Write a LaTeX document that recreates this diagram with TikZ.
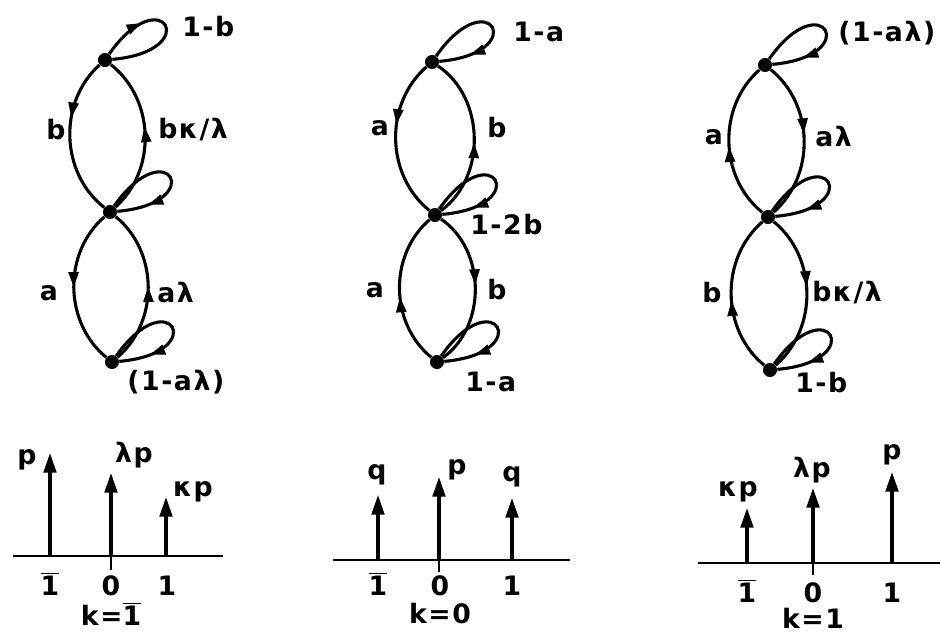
\documentclass[tikz,border=0pt]{standalone}
\usepackage{fontspec}
\setmainfont[LetterSpace=6]{DejaVu Sans}
\usetikzlibrary{positioning, arrows.meta, decorations.markings}

\begin{document}
\begin{tikzpicture}[x=0.025cm, y=0.025cm,
    % state dots and chain arcs
    dot/.style={circle, fill=black, inner sep=0pt, minimum size=10pt},
    arc/.style={line width=2.2pt},
    flow/.style={arc, postaction={decorate}, decoration={markings, mark=at position #1 with {\arrow{Triangle[length=11pt, width=7pt]}}}},
    lbl/.style={inner sep=0pt, font=\fontsize{19}{21}\selectfont\bfseries},
    % axis and stem arrows
    axis/.style={line width=2pt},
    stem/.style={line width=2.2pt, -{Triangle[length=14pt, width=9pt]}},
]
\useasboundingbox (0,0) rectangle (940,-634);

% ==================== 1. chain k = -1 ====================
\node[dot] (t1) at (105,-60)  {};
\node[dot] (m1) at (110,-212) {};
\node[dot] (b1) at (112,-362) {};

\draw[flow=0.38] (t1) to[bend right=50] (m1);
\draw[flow=0.55] (m1) to[bend right=50] (t1);
\draw[flow=0.50] (m1) to[bend right=50] (b1);
\draw[flow=0.50] (b1) to[bend right=50] (m1);

\draw[flow=0.32] (t1) .. controls +(55:100) and +(5:100) .. (t1);
\draw[flow=0.78] (m1) .. controls +(55:100) and +(5:100) .. (m1);
\draw[flow=0.78] (b1) .. controls +(55:100) and +(5:100) .. (b1);

\node[lbl, anchor=west] (l1top) at (182,-27)  {1-b};
\node[lbl]              (l1b)   at (56,-130)   {b};
\node[lbl, anchor=west] (l1bk)  at (158,-130) {bκ/λ};
\node[lbl]              (l1a)   at (49,-293)   {a};
\node[lbl, anchor=west] (l1al)  at (157,-293) {aλ};
\node[lbl, anchor=west] (l1bot) at (127,-382) {(1-aλ)};

% ==================== 2. chain k = 0 ====================
\node[dot] (t2) at (432,-62)  {};
\node[dot] (m2) at (435,-215) {};
\node[dot] (b2) at (437,-362) {};

\draw[flow=0.41] (t2) to[bend right=50] (m2);
\draw[flow=0.47] (m2) to[bend right=55] (t2);
\draw[flow=0.45] (b2) to[bend left=50] (m2);
\draw[flow=0.48] (m2) to[bend left=55] (b2);

\draw[flow=0.78] (t2) .. controls +(55:100) and +(5:100) .. (t2);
\draw[flow=0.78] (m2) .. controls +(55:100) and +(5:100) .. (m2);
\draw[flow=0.78] (b2) .. controls +(55:100) and +(5:100) .. (b2);

\node[lbl, anchor=west] (l2top) at (513,-32)  {1-a};
\node[lbl]              (l2a)   at (380,-128)  {a};
\node[lbl, anchor=west] (l2b)   at (487,-128) {b};
\node[lbl, anchor=west] (l2mid) at (470,-225) {1-2b};
\node[lbl]              (l2a2)  at (375,-290)  {a};
\node[lbl, anchor=west] (l2b2)  at (487,-290) {b};
\node[lbl, anchor=west] (l2bot) at (465,-382) {1-a};

% ==================== 3. chain k = 1 ====================
\node[dot] (t3) at (765,-65)  {};
\node[dot] (m3) at (768,-217) {};
\node[dot] (b3) at (770,-370) {};

\draw[flow=0.47] (m3) to[bend left=50] (t3);
\draw[flow=0.46] (t3) to[bend left=50] (m3);
\draw[flow=0.46] (b3) to[bend left=50] (m3);
\draw[flow=0.46] (m3) to[bend left=50] (b3);

\draw[flow=0.78] (t3) .. controls +(55:100) and +(5:100) .. (t3);
\draw[flow=0.78] (m3) .. controls +(55:100) and +(5:100) .. (m3);
\draw[flow=0.78] (b3) .. controls +(55:100) and +(5:100) .. (b3);

\node[lbl, anchor=west] (l3top) at (838,-33)  {(1-aλ)};
\node[lbl]              (l3a)   at (714,-137)  {a};
\node[lbl, anchor=west] (l3al)  at (815,-137) {aλ};
\node[lbl]              (l3b)   at (712,-293)  {b};
\node[lbl, anchor=west] (l3bk)  at (812,-293) {bκ/λ};
\node[lbl, anchor=west] (l3bot) at (795,-383) {1-b};

% ==================== 4. stem plots ====================
% k = -1
\coordinate (ax1L) at (13,-556);
\coordinate (ax1R) at (223,-556);
\coordinate (k1n) at (50,-556);
\coordinate (k1z) at (111,-556);
\coordinate (k1p) at (166,-556);
\coordinate (k1tick) at (111,-570);
\draw[axis] (ax1L) -- (ax1R);
\draw[axis] (k1z) -- (k1tick);
\coordinate (k1nTop) at (50,-453);
\coordinate (k1zTop) at (111,-473);
\coordinate (k1pTop) at (166,-497);
\draw[stem] (k1n) -- (k1nTop);
\draw[stem] (k1z) -- (k1zTop);
\draw[stem] (k1p) -- (k1pTop);
\node[lbl] (v1n) at (27,-460)  {p};
\node[lbl] (v1z) at (134,-455) {λp};
\node[lbl] (v1p) at (193,-492) {κp};
\node[lbl, anchor=base] (x1n) at (50,-595)  {$\overline{\mbox{1}}$};
\node[lbl, anchor=base] (x1z) at (111,-595) {0};
\node[lbl, anchor=base] (x1p) at (167,-595) {1};
\node[lbl, anchor=base] (c1)  at (111,-625) {k=$\overline{\mbox{1}}$};

% k = 0
\coordinate (ax2L) at (333,-560);
\coordinate (ax2R) at (570,-560);
\coordinate (k2n) at (378,-560);
\coordinate (k2z) at (439,-560);
\coordinate (k2p) at (512,-560);
\coordinate (k2tick) at (439,-572);
\draw[axis] (ax2L) -- (ax2R);
\draw[axis] (k2z) -- (k2tick);
\coordinate (k2nTop) at (378,-495);
\coordinate (k2zTop) at (439,-477);
\coordinate (k2pTop) at (512,-498);
\draw[stem] (k2n) -- (k2nTop);
\draw[stem] (k2z) -- (k2zTop);
\draw[stem] (k2p) -- (k2pTop);
\node[lbl] (v2n) at (377,-475) {q};
\node[lbl] (v2z) at (457,-470) {p};
\node[lbl] (v2p) at (512,-477) {q};
\node[lbl, anchor=base] (x2n) at (378,-595) {$\overline{\mbox{1}}$};
\node[lbl, anchor=base] (x2z) at (440,-595) {0};
\node[lbl, anchor=base] (x2p) at (512,-595) {1};
\node[lbl, anchor=base] (c2)  at (440,-623) {k=0};

% k = 1
\coordinate (ax3L) at (698,-563);
\coordinate (ax3R) at (940,-563);
\coordinate (k3n) at (747,-563);
\coordinate (k3z) at (813,-563);
\coordinate (k3p) at (892,-563);
\coordinate (k3tick) at (813,-575);
\draw[axis] (ax3L) -- (ax3R);
\draw[axis] (k3z) -- (k3tick);
\coordinate (k3nTop) at (747,-508);
\coordinate (k3zTop) at (813,-488);
\coordinate (k3pTop) at (892,-472);
\draw[stem] (k3n) -- (k3nTop);
\draw[stem] (k3z) -- (k3zTop);
\draw[stem] (k3p) -- (k3pTop);
\node[lbl] (v3n) at (738,-492) {κp};
\node[lbl] (v3z) at (812,-470) {λp};
\node[lbl] (v3p) at (892,-455) {p};
\node[lbl, anchor=base] (x3n) at (747,-602) {$\overline{\mbox{1}}$};
\node[lbl, anchor=base] (x3z) at (813,-602) {0};
\node[lbl, anchor=base] (x3p) at (892,-602) {1};
\node[lbl, anchor=base] (c3)  at (813,-628) {k=1};

\end{tikzpicture}
\end{document}
